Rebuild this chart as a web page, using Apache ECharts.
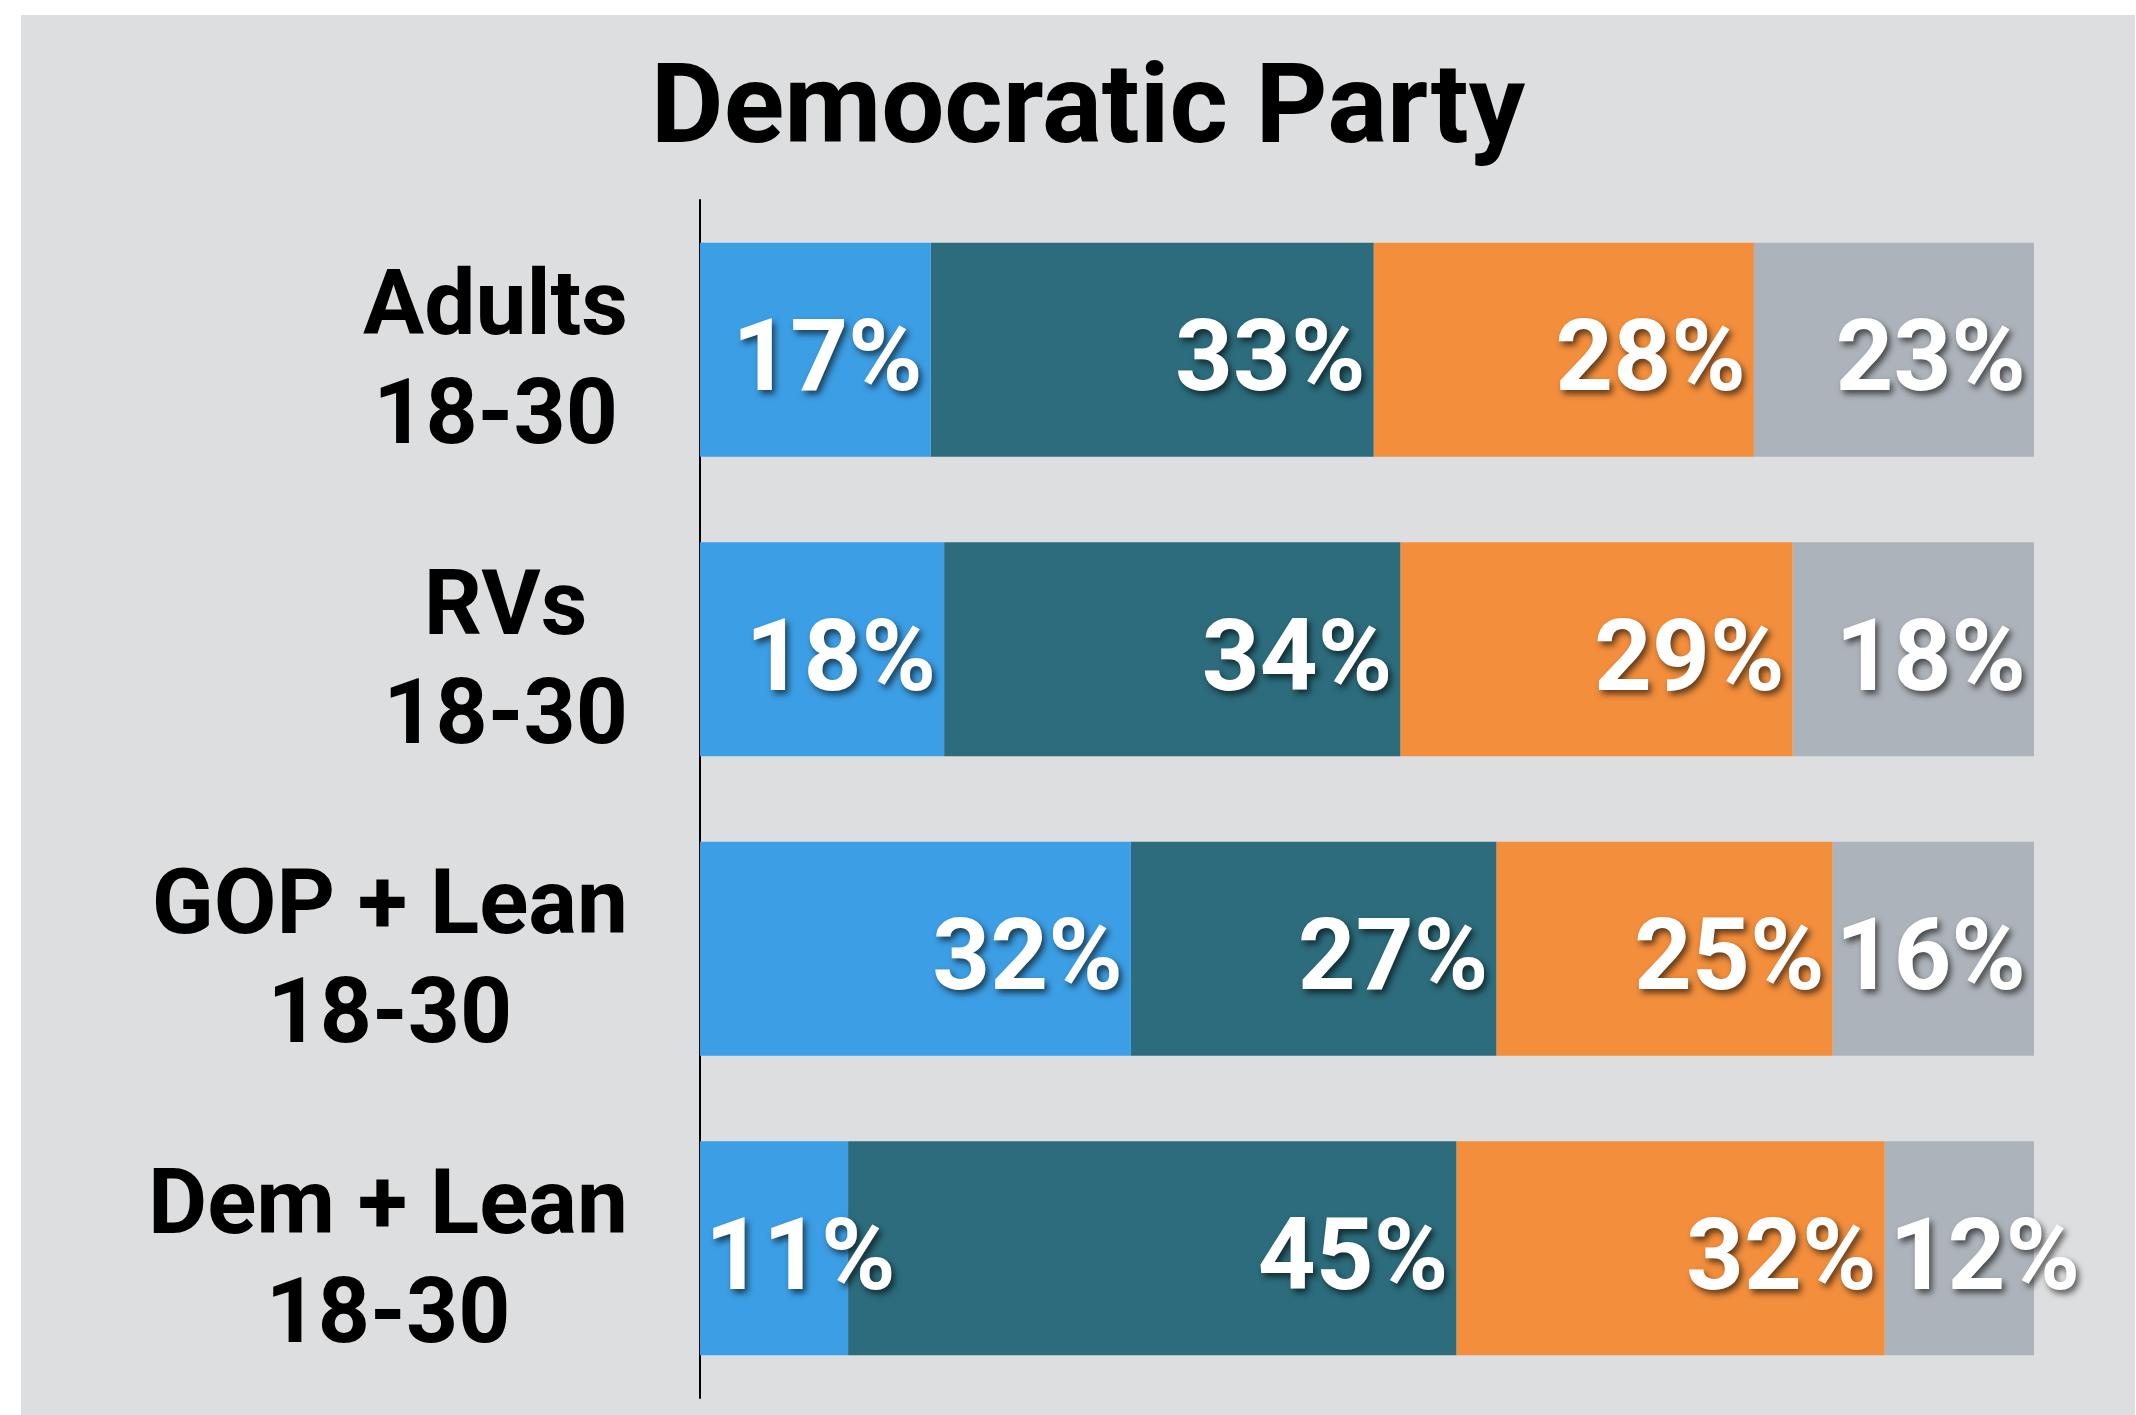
<!DOCTYPE html>
<html>
<head>
<meta charset="utf-8">
<script src="https://cdn.jsdelivr.net/npm/echarts@6/dist/echarts.min.js"></script>
<style>
  html, body { margin: 0; padding: 0; background: #ffffff; }
  #bg { position: absolute; left: 21px; top: 15px; width: 2114px; height: 1400px; background: #dddee0; }
  #chart { position: absolute; left: 0; top: 0; width: 2136px; height: 1415px; }
</style>
</head>
<body>
<div id="bg"></div>
<div id="chart"></div>
<script>
// Categories (top to bottom)
const categories = ['Adults\n18-30', 'RVs\n18-30', 'GOP + Lean\n18-30', 'Dem + Lean\n18-30'];
const seriesNames = ['Blue', 'Teal', 'Orange', 'Gray'];

// Segment lengths as drawn (share of each 100% bar)
const blueValues   = [17.3, 18.3, 32.3, 11.1];
const tealValues   = [33.2, 34.2, 27.4, 45.6];
const orangeValues = [28.5, 29.4, 25.2, 32.1];
const grayValues   = [21.0, 18.1, 15.1, 11.2];

// Printed labels
const blueLabels   = ['17%', '18%', '32%', '11%'];
const tealLabels   = ['33%', '34%', '27%', '45%'];
const orangeLabels = ['28%', '29%', '25%', '32%'];
const grayLabels   = ['23%', '18%', '16%', '12%'];

const colors = ['#3c9ee4', '#2c6c7c', '#f28e3c', '#adb3ba'];
const FONT = 'Roboto';

const allValues = [blueValues, tealValues, orangeValues, grayValues];
const allLabels = [blueLabels, tealLabels, orangeLabels, grayLabels];

const series = allValues.map((vals, si) => ({
  name: seriesNames[si],
  type: 'bar',
  stack: 'total',
  barWidth: 214,
  z: 10 - si,
  itemStyle: { color: colors[si] },
  label: {
    show: true,
    color: '#ffffff',
    fontFamily: FONT,
    fontWeight: 700,
    fontSize: 101,
    offset: [0, 15],
    textShadowColor: 'rgba(0,0,0,0.6)',
    textShadowBlur: 6,
    textShadowOffsetX: 3,
    textShadowOffsetY: 4,
    formatter: (p) => allLabels[si][p.dataIndex]
  },
  data: vals.map(v => ({
    value: v,
    label: v < 13 ? { position: 'insideLeft', distance: 5 } : { position: 'insideRight', distance: 8 }
  }))
}));

const chart = echarts.init(document.getElementById('chart'), null, { renderer: 'canvas' });
chart.setOption({
  backgroundColor: 'transparent',
  animation: false,
  title: {
    text: 'Democratic Party',
    left: 1088,
    textAlign: 'center',
    top: 58,
    padding: 0,
    textStyle: { fontFamily: FONT, fontWeight: 700, fontSize: 112, color: '#000000' }
  },
  grid: { left: 700, right: 102, top: 200, bottom: 17, containLabel: false },
  xAxis: {
    type: 'value', min: 0, max: 100,
    show: false
  },
  yAxis: {
    type: 'category',
    data: categories,
    inverse: true,
    axisLine: { show: true, lineStyle: { color: '#000000', width: 2 } },
    axisTick: { show: false },
    splitLine: { show: false },
    axisLabel: {
      margin: 72,
      padding: [32, 0, 0, 0],
      formatter: (v) => v.split('\n').map(s => '{a|' + s + '}').join('\n'),
      rich: {
        a: { fontFamily: FONT, fontWeight: 700, fontSize: 91, lineHeight: 109, color: '#000000', align: 'center' }
      }
    }
  },
  series: series
});
</script>
</body>
</html>
